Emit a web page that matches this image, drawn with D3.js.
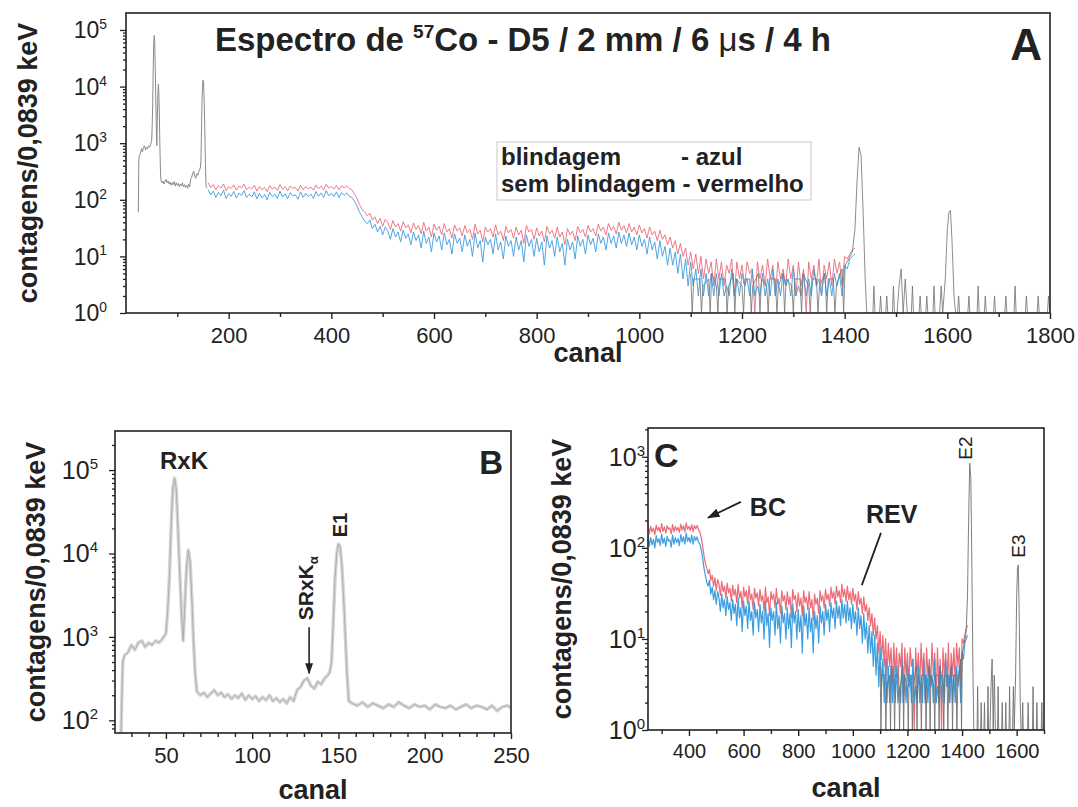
<!DOCTYPE html>
<html>
<head>
<meta charset="utf-8">
<script src="https://cdn.jsdelivr.net/npm/d3@7"></script>
<style>
  body { margin: 0; background: #fff; }
  svg text { font-family: "Liberation Sans", Arial, sans-serif; fill: #222; }
</style>
</head>
<body>
<div id="vis"></div>
<script>
// espectro de baixa energia (canais 24-250), usado no painel B e no inicio do A
var canaisBaixos = [24,25,26,28,30,32,34,36,38,40, 42,44,46,48,50,51,52,53,54,55,
  56,57,58,59,60,61,62,63,64,65, 66,67,68,70,72,74,76,78,80,82,
  84,86,88,90,92,94,96,98,100,102, 104,106,108,110,112,114,116,118,120,122,
  124,126,128,130,132,134,136,138,140,142, 144,145,146,147,148,149,150,151,152,153,
  154,155,156,158,161,164,167,170,173,176, 179,182,185,188,191,194,197,200,203,206,
  209,212,215,218,221,224,227,230,233,236, 239,242,245,248,250];
var contagensBaixas = [60,500,600,650,800,700,850,900,760,850, 800,900,850,950,1100,2000,5000,20000,60000,80000,
  60000,20000,6000,2000,900,2500,7000,11000,8000,3000, 900,350,220,200,215,190,210,230,200,215,
  190,205,180,200,185,210,175,200,180,195, 170,190,175,200,170,185,165,180,160,190,
  170,230,250,300,320,260,240,290,270,320, 350,380,500,1500,5000,10000,13000,12000,7000,3000,
  1000,350,170,160,150,165,145,160,150,140, 155,145,165,150,140,155,145,150,135,155,
  145,140,150,135,145,155,140,150,145,135, 150,130,145,150,140];

// continuo (canais 160-1420, de 5 em 5)
var canaisContinuo = [
  160,165,170,175,180,185,190,195,200,205,210,215,220,225,230,235,240,245,250,255,
  260,265,270,275,280,285,290,295,300,305,310,315,320,325,330,335,340,345,350,355,
  360,365,370,375,380,385,390,395,400,405,410,415,420,425,430,435,440,445,450,455,
  460,465,470,475,480,485,490,495,500,505,510,515,520,525,530,535,540,545,550,555,
  560,565,570,575,580,585,590,595,600,605,610,615,620,625,630,635,640,645,650,655,
  660,665,670,675,680,685,690,695,700,705,710,715,720,725,730,735,740,745,750,755,
  760,765,770,775,780,785,790,795,800,805,810,815,820,825,830,835,840,845,850,855,
  860,865,870,875,880,885,890,895,900,905,910,915,920,925,930,935,940,945,950,955,
  960,965,970,975,980,985,990,995,1000,1005,1010,1015,1020,1025,1030,1035,1040,1045,1050,1055,
  1060,1065,1070,1075,1080,1085,1090,1095,1100,1105,1110,1115,1120,1125,1130,1135,1140,1145,1150,1155,
  1160,1165,1170,1175,1180,1185,1190,1195,1200,1205,1210,1215,1220,1225,1230,1235,1240,1245,1250,1255,
  1260,1265,1270,1275,1280,1285,1290,1295,1300,1305,1310,1315,1320,1325,1330,1335,1340,1345,1350,1355,
  1360,1365,1370,1375,1380,1385,1390,1395,1400,1405,1410,1415,1420];
var semBlindagem = [
  200,165,185,150,178,160,190,145,170,158,182,148,175,162,188,150,168,155,180,142,
  172,150,165,140,178,155,168,147,185,152,170,145,175,160,166,142,180,150,172,155,
  168,148,182,157,175,150,188,160,172,155,180,150,176,162,176,158,150,128,105,82,
  68,60,52,58,44,50,38,47,34,45,40,30,43,33,38,28,41,32,36,26,
  39,30,35,25,40,28,33,22,37,29,34,24,38,27,31,21,36,28,32,23,
  35,26,30,20,37,25,29,18,33,27,31,22,36,24,28,19,34,26,30,21,
  33,24,29,17,35,27,30,20,32,23,28,18,34,25,29,21,33,22,27,16,
  31,24,28,19,34,26,30,22,35,27,31,23,37,28,33,24,38,29,34,25,
  40,29,35,26,38,27,33,24,36,26,31,21,33,24,28,19,29,20,24,16,
  22,14,19,11,17,10,14,7,12,6,11,5,10,4,9,5,8,3,9,4,
  8,3,7,5,9,2,8,4,7,3,8,5,6,1,8,4,7,3,9,4,
  7,2,8,4,6,3,9,4,7,2,8,3,6,1,8,4,7,3,9,2,
  7,4,8,3,9,5,8,3,10,9,11,13,14];
var blindagem = [
  150,122,142,110,135,118,148,105,128,115,140,108,132,120,145,110,126,112,138,104,
  130,108,124,100,136,114,126,106,142,112,128,104,134,118,122,102,138,110,130,114,
  126,106,140,116,132,110,145,118,130,114,138,110,134,120,132,115,110,95,78,60,
  50,42,38,44,31,37,27,34,24,33,28,20,31,22,27,18,29,21,25,16,
  27,19,24,14,28,17,22,12,26,18,23,13,26,16,20,11,25,17,21,12,
  24,15,20,10,26,14,19,8,22,16,20,11,25,13,18,9,23,15,19,10,
  22,13,19,8,24,15,20,10,21,12,18,7,23,14,19,10,22,12,17,7,
  20,13,18,9,23,15,20,11,24,16,21,12,25,17,22,13,26,17,23,14,
  27,17,24,15,26,16,22,13,24,15,20,11,22,13,18,9,19,10,15,7,
  14,7,12,5,11,4,9,3,8,3,6,2,6,2,5,2,5,2,5,2,
  5,2,3,2,6,2,4,2,5,3,4,2,6,2,3,2,5,2,4,2,
  6,2,4,2,5,3,4,2,6,2,3,2,5,2,4,2,6,3,4,2,
  5,2,4,2,5,3,5,2,7,6,9,10,11];

// picos E2 / E3 e canais vazios (cinza)
var canaisPicos = [
  1100,1103,1106, 1118,1121,1124, 1135,1138,1141, 1150,1153,1156, 1168,1171,1174, 1183,1186,1189,
  1200,1203,1206, 1215,1218,1221, 1232,1235,1238, 1248,1251,1254, 1265,1268,1271, 1280,1283,1286,
  1297,1300,1303, 1313,1316,1319, 1330,1333,1336, 1345,1348,1351, 1362,1365,1368, 1378,1381,1384,
  1395,1398,1401,
  1408,1415,1420,1424,1428,1432,1436,1440,1443,
  1455,1457,1459, 1468,1470,1472, 1480,1482,1484, 1493,1495,1497,
  1502,1506,1510,1514,1518,1522,
  1530,1532,1534, 1545,1547,1549, 1558,1560,1562, 1572,1574,1576, 1585,1588,1591,
  1596,1600,1603,1606,1609,1613,1616,
  1620,1622,1624, 1640,1642,1644, 1658,1660,1662, 1672,1674,1676, 1690,1692,1694,
  1712,1714,1716, 1730,1732,1734, 1752,1754,1756, 1775,1777,1779, 1795,1797,1800];
var contagensPicos = [
  5,0,4, 4,0,3, 4,0,5, 3,0,4, 4,0,3, 5,0,4,
  3,0,4, 4,0,3, 5,0,4, 3,0,4, 4,0,3, 5,0,4,
  3,0,4, 4,0,5, 3,0,4, 4,0,3, 5,0,4, 4,0,3,
  6,0,7,
  9,12,30,200,850,600,60,4,0,
  0,3,0, 0,2,0, 0,2,0, 0,3,0,
  0,3,6,1,4,0,
  0,3,0, 0,2,0, 0,2,0, 0,3,0, 0,3,0,
  4,30,60,65,20,2,0,
  0,2,0, 0,2,0, 0,3,0, 0,2,0, 0,2,0,
  0,2,0, 0,3,0, 0,2,0, 0,2,0, 0,2,0];

var xTicksA = [200,400,600,800,1000,1200,1400,1600,1800];
var xMinorA = [100,300,500,700,900,1100,1300,1500,1700];
var xTicksB = [50,100,150,200,250];
var xMinorB = [30,40,60,70,80,90,110,120,130,140,160,170,180,190,210,220,230,240];
var xTicksC = [400,600,800,1000,1200,1400,1600];
var xMinorC = [300,500,700,900,1100,1300,1500,1700];

var corVermelho = '#ec6b77';
var corAzul = '#3c9de0';
var corCinza = '#707070';

var svg = d3.select('#vis').append('svg')
  .attr('width', 1078)
  .attr('height', 807);

var defs = svg.append('defs');
defs.append('marker')
  .attr('id', 'seta')
  .attr('viewBox', '0 0 10 10')
  .attr('refX', 9).attr('refY', 5)
  .attr('markerWidth', 7).attr('markerHeight', 7)
  .attr('orient', 'auto')
  .append('path').attr('d', 'M0,1.5 L10,5 L0,8.5 Z').attr('fill', '#222');

function minorLog(dom) {
  var out = [];
  for (var e = -1; e < 7; e++) {
    for (var k = 2; k < 10; k++) {
      var v = k * Math.pow(10, e);
      if (v >= dom[0] && v <= dom[1]) out.push(v);
    }
  }
  return out;
}

function painel(c) {
  var g = svg.append('g');
  var x = d3.scaleLinear().domain(c.xd).range([c.x0, c.x1]);
  var y = d3.scaleLog().domain(c.yd).range([c.y1, c.y0]).clamp(true);

  defs.append('clipPath').attr('id', 'clip' + c.nome)
    .append('rect')
    .attr('x', c.x0).attr('y', c.y0)
    .attr('width', c.x1 - c.x0).attr('height', c.y1 - c.y0);

  var dados = g.append('g').attr('clip-path', 'url(#clip' + c.nome + ')');

  // eixo x
  var ax = g.append('g').attr('transform', 'translate(0,' + c.y1 + ')');
  ax.append('g').call(d3.axisBottom(x).tickValues(c.xMinor).tickSize(4).tickFormat(''));
  ax.append('g').call(d3.axisBottom(x).tickValues(c.xMajor).tickSize(6).tickPadding(c.xPad).tickFormat(d3.format('d')));
  ax.selectAll('.domain').remove();
  ax.selectAll('line').attr('stroke', '#222').attr('stroke-width', 1.4);
  ax.selectAll('text').attr('font-size', c.fsX).attr('font-family', null).attr('fill', '#222');

  // eixo y
  var exps = [];
  for (var e = 0; e < 7; e++) {
    var v = Math.pow(10, e);
    if (v >= c.yd[0] && v <= c.yd[1]) exps.push(e);
  }
  var ay = g.append('g').attr('transform', 'translate(' + c.x0 + ',0)');
  ay.append('g').call(d3.axisLeft(y).tickValues(minorLog(c.yd)).tickSize(3).tickFormat(''));
  ay.append('g').call(d3.axisLeft(y).tickValues(exps.map(function(e) { return Math.pow(10, e); })).tickSize(6).tickFormat(''));
  ay.selectAll('.domain').remove();
  ay.selectAll('line').attr('stroke', '#222').attr('stroke-width', 1.3);

  exps.forEach(function(e) {
    var t = g.append('text')
      .attr('x', c.x0 - c.yPad)
      .attr('y', y(Math.pow(10, e)) + c.fsY * 0.36)
      .attr('text-anchor', 'end')
      .attr('font-size', c.fsY);
    t.append('tspan').text('10');
    t.append('tspan').attr('font-size', c.fsY * 0.6).attr('dy', -c.fsY * 0.4).text(e);
  });

  // moldura
  g.append('rect')
    .attr('x', c.x0).attr('y', c.y0)
    .attr('width', c.x1 - c.x0).attr('height', c.y1 - c.y0)
    .attr('fill', 'none').attr('stroke', '#222').attr('stroke-width', 1.6);

  // titulos dos eixos
  g.append('text')
    .attr('x', (c.x0 + c.x1) / 2).attr('y', c.xLabelY)
    .attr('text-anchor', 'middle')
    .attr('font-size', 27).attr('font-weight', 'bold')
    .text('canal');
  g.append('text')
    .attr('transform', 'translate(' + c.yLabelX + ',' + (c.y0 + c.y1) / 2 + ') rotate(-90)')
    .attr('text-anchor', 'middle')
    .attr('font-size', 27).attr('font-weight', 'bold')
    .text('contagens/0,0839 keV');

  return { g: g, x: x, y: y, dados: dados };
}

function traco(p, cs, vs, cor, largura, filtro) {
  var pts = cs.map(function(ch, i) { return [ch, vs[i]]; });
  if (filtro) pts = pts.filter(filtro);
  var linha = d3.line()
    .x(function(d) { return p.x(d[0]); })
    .y(function(d) { return p.y(Math.max(d[1], 0.01)); });
  p.dados.append('path')
    .datum(pts)
    .attr('d', linha)
    .attr('fill', 'none')
    .attr('stroke', cor)
    .attr('stroke-width', largura)
    .attr('stroke-linejoin', 'round');
}

// ---------- painel A ----------
var pA = painel({
  nome: 'A', x0: 126, x1: 1050, y0: 13, y1: 313,
  xd: [0, 1800], yd: [1, Math.pow(10, 5.3)],
  xMajor: xTicksA, xMinor: xMinorA,
  fsX: 22, xPad: 8, fsY: 23, yPad: 19,
  xLabelY: 362, yLabelX: 37
});
traco(pA, canaisBaixos, contagensBaixas, '#8a8a8a', 1, function(d) { return d[0] <= 160; });
traco(pA, canaisContinuo, semBlindagem, corVermelho, 0.9);
traco(pA, canaisContinuo, blindagem, corAzul, 0.9);
traco(pA, canaisPicos, contagensPicos, corCinza, 0.8);

var titulo = pA.g.append('text')
  .attr('x', 215).attr('y', 51)
  .attr('font-size', 33).attr('font-weight', 'bold');
titulo.append('tspan').text('Espectro de ');
titulo.append('tspan').attr('font-size', 19).attr('dy', -13).text('57');
titulo.append('tspan').attr('dy', 13).text('Co - D5 / 2 mm / 6 ');
titulo.append('tspan').attr('font-weight', 'normal').text('\u03bc');
titulo.append('tspan').text('s / 4 h');

pA.g.append('text')
  .attr('x', 1042).attr('y', 60)
  .attr('text-anchor', 'end')
  .attr('font-size', 44).attr('font-weight', 'bold')
  .text('A');

var leg = pA.g.append('g').attr('transform', 'translate(497,142)');
leg.append('rect').attr('width', 314).attr('height', 58)
  .attr('fill', '#fff').attr('stroke', '#c8c8c8').attr('stroke-width', 1);
leg.append('text').attr('x', 4).attr('y', 23).attr('font-size', 24).attr('font-weight', 'bold').text('blindagem');
leg.append('text').attr('x', 184).attr('y', 23).attr('font-size', 24).attr('font-weight', 'bold').text('- azul');
leg.append('text').attr('x', 4).attr('y', 50).attr('font-size', 24).attr('font-weight', 'bold').text('sem blindagem - vermelho');

// ---------- painel B ----------
var pB = painel({
  nome: 'B', x0: 115, x1: 511, y0: 431, y1: 733,
  xd: [20.5, 250], yd: [70.5, 2.94e5],
  xMajor: xTicksB, xMinor: xMinorB,
  fsX: 22, xPad: 8, fsY: 25, yPad: 17,
  xLabelY: 799, yLabelX: 45
});
traco(pB, canaisBaixos, contagensBaixas, '#d6d6d6', 3.5);
traco(pB, canaisBaixos, contagensBaixas, '#a4a4a4', 0.8);

pB.g.append('text')
  .attr('x', 503).attr('y', 474)
  .attr('text-anchor', 'end')
  .attr('font-size', 33).attr('font-weight', 'bold')
  .text('B');
pB.g.append('text')
  .attr('x', pB.x(46.6)).attr('y', pB.y(1.03e5))
  .attr('font-size', 24).attr('font-weight', 'bold')
  .text('RxK');
var sr = pB.g.append('text')
  .attr('transform', 'translate(' + pB.x(135.4) + ',' + pB.y(1585) + ') rotate(-90)')
  .attr('font-size', 21).attr('font-weight', 'bold');
sr.append('tspan').text('SRxK');
sr.append('tspan').attr('font-size', 13).attr('dy', 5).text('\u03b1');
pB.g.append('text')
  .attr('transform', 'translate(' + pB.x(155) + ',' + pB.y(15700) + ') rotate(-90)')
  .attr('font-size', 20).attr('font-weight', 'bold')
  .text('E1');
pB.g.append('line')
  .attr('x1', pB.x(133)).attr('y1', pB.y(1306))
  .attr('x2', pB.x(133)).attr('y2', pB.y(366))
  .attr('stroke', '#222').attr('stroke-width', 1.6)
  .attr('marker-end', 'url(#seta)');

// ---------- painel C ----------
var pC = painel({
  nome: 'C', x0: 648, x1: 1044, y0: 428, y1: 730,
  xd: [250, 1700], yd: [1, 2070],
  xMajor: xTicksC, xMinor: xMinorC,
  fsX: 20, xPad: 8, fsY: 25, yPad: 3,
  xLabelY: 797, yLabelX: 571
});
traco(pC, canaisContinuo, semBlindagem, corVermelho, 1.2);
traco(pC, canaisContinuo, blindagem, corAzul, 1.2);
traco(pC, canaisPicos, contagensPicos, corCinza, 0.9);

pC.g.append('text')
  .attr('x', 654).attr('y', 467)
  .attr('font-size', 34).attr('font-weight', 'bold')
  .text('C');
pC.g.append('text')
  .attr('x', pC.x(623)).attr('y', pC.y(225))
  .attr('font-size', 25).attr('font-weight', 'bold')
  .text('BC');
pC.g.append('line')
  .attr('x1', pC.x(590)).attr('y1', pC.y(320))
  .attr('x2', pC.x(470)).attr('y2', pC.y(214))
  .attr('stroke', '#222').attr('stroke-width', 1.8)
  .attr('marker-end', 'url(#seta)');
pC.g.append('text')
  .attr('x', pC.x(1048)).attr('y', pC.y(188))
  .attr('font-size', 25).attr('font-weight', 'bold')
  .text('REV');
pC.g.append('line')
  .attr('x1', pC.x(1103)).attr('y1', pC.y(146))
  .attr('x2', pC.x(1033)).attr('y2', pC.y(39))
  .attr('stroke', '#222').attr('stroke-width', 1.8);
pC.g.append('text')
  .attr('transform', 'translate(' + pC.x(1436) + ',' + pC.y(930) + ') rotate(-90)')
  .attr('font-size', 19)
  .text('E2');
pC.g.append('text')
  .attr('transform', 'translate(' + pC.x(1632) + ',' + pC.y(78) + ') rotate(-90)')
  .attr('font-size', 19)
  .text('E3');
</script>
</body>
</html>
